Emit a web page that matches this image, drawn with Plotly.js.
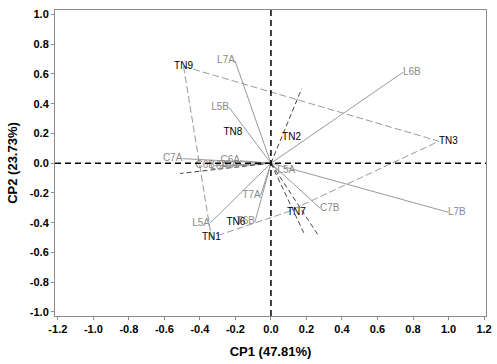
<!DOCTYPE html>
<html>
<head>
<meta charset="utf-8">
<script src="https://cdn.plot.ly/plotly-3.0.1.min.js"></script>
<style>html,body{margin:0;padding:0;background:#fff;}#chart{width:497px;height:364px;}</style>
</head>
<body>
<div id="chart"></div>
<script>
// Genotypes (scores)
const genoNames = ['TN1','TN2','TN3','TN6','TN7','TN8','TN9'];
const genoX = [-0.335, 0.116, 0.946, -0.197, 0.090, -0.214, -0.492];
const genoY = [-0.500, 0.176, 0.148, -0.401, -0.329, 0.206, 0.651];
// Convex hull (polygon) order
const hullOrder = ['TN9','TN3','TN7','TN1'];
// Variables (loadings)
const varNames = ['L7A','L5B','L6B','L7B','C7B','L5A','C7A','C6B','L6A','C6A','T6A','L5A','T7A','T6B'];
const varX = [-0.203, -0.236, 0.743, 0.997, 0.276, 0.036, -0.499, -0.315, -0.242, -0.175, -0.186, -0.343, -0.058, -0.090];
const varY = [0.691, 0.376, 0.611, -0.329, -0.302, -0.050, 0.031, -0.017, -0.020, 0.017, -0.017, -0.403, -0.215, -0.394];
// Sector rays (end points, from origin)
const rayX = [0.173, -0.512, 0.191, 0.272];
const rayY = [0.501, -0.069, -0.483, -0.495];
// Axis ticks
const xTickVals = [-1.2,-1.0,-0.8,-0.6,-0.4,-0.2,0,0.2,0.4,0.6,0.8,1.0,1.2];
const xTickText = ['-1.2','-1.0','-0.8','-0.6','-0.4','-0.2','0.0','0.2','0.4','0.6','0.8','1.0','1.2'];
const yTickVals = [-1.0,-0.8,-0.6,-0.4,-0.2,0,0.2,0.4,0.6,0.8,1.0];
const yTickText = ['-1.0','-0.8','-0.6','-0.4','-0.2','0.0','0.2','0.4','0.6','0.8','1.0'];
const xTitle = 'CP1 (47.81%)';
const yTitle = 'CP2 (23.73%)';

// styling
const genoTextPos = ['middle center','middle center','middle right','middle center','middle right','middle center','middle center'];

const vx = [], vy = [];
varX.forEach((x, i) => { vx.push(0, x, null); vy.push(0, varY[i], null); });
const rx = [], ry = [];
rayX.forEach((x, i) => { rx.push(0, x, null); ry.push(0, rayY[i], null); });
const hx = [], hy = [];
hullOrder.concat([hullOrder[0]]).forEach(n => { const i = genoNames.indexOf(n); hx.push(genoX[i]); hy.push(genoY[i]); });

const font = 'Arial, "Liberation Sans", sans-serif';
const traces = [
  {x: vx, y: vy, mode: 'lines', line: {color: '#9a9a9a', width: 1}, hoverinfo: 'skip'},
  {x: hx, y: hy, mode: 'lines', line: {color: '#9a9a9a', width: 1, dash: '7px,3px'}, hoverinfo: 'skip'},
  {x: rx, y: ry, mode: 'lines', line: {color: '#444', width: 1, dash: '5px,3px'}, hoverinfo: 'skip'},
  {x: varX, y: varY, mode: 'text', text: varNames,
   textposition: varX.map(x => x < 0 ? 'middle left' : 'middle right'),
   textfont: {family: font, size: 10, color: '#8a8a8a'}, cliponaxis: false},
  {x: genoX, y: genoY, mode: 'text', text: genoNames, textposition: genoTextPos,
   textfont: {family: font, size: 10, color: '#000'}, cliponaxis: false}
];

const axisCommon = {
  showgrid: false, zeroline: false, showline: true, mirror: true,
  linecolor: '#8c8c8c', linewidth: 1, ticks: 'outside', ticklen: 3, tickcolor: '#8c8c8c',
  tickfont: {family: font, size: 11, color: '#000', weight: 'bold'}
};

const layout = {
  width: 497, height: 364,
  margin: {l: 55, r: 11, t: 10, b: 48},
  paper_bgcolor: '#fff', plot_bgcolor: '#fff',
  showlegend: false,
  xaxis: Object.assign({}, axisCommon, {
    range: [-1.216, 1.211], tickmode: 'array', tickvals: xTickVals, ticktext: xTickText,
    title: {text: xTitle, font: {family: font, size: 13, color: '#000', weight: 'bold'}, standoff: 12}
  }),
  yaxis: Object.assign({}, axisCommon, {
    range: [-1.027, 1.030], tickmode: 'array', tickvals: yTickVals, ticktext: yTickText,
    title: {text: yTitle, font: {family: font, size: 13, color: '#000', weight: 'bold'}, standoff: 9}
  }),
  shapes: [
    {type: 'line', xref: 'x', yref: 'paper', x0: 0, x1: 0, y0: 0, y1: 1, line: {color: '#000', width: 1.5, dash: '6px,4px'}},
    {type: 'line', xref: 'paper', yref: 'y', x0: 0, x1: 1, y0: 0, y1: 0, line: {color: '#000', width: 1.5, dash: '6px,4px'}}
  ]
};

Plotly.newPlot('chart', traces, layout, {staticPlot: true, displayModeBar: false});
</script>
</body>
</html>
